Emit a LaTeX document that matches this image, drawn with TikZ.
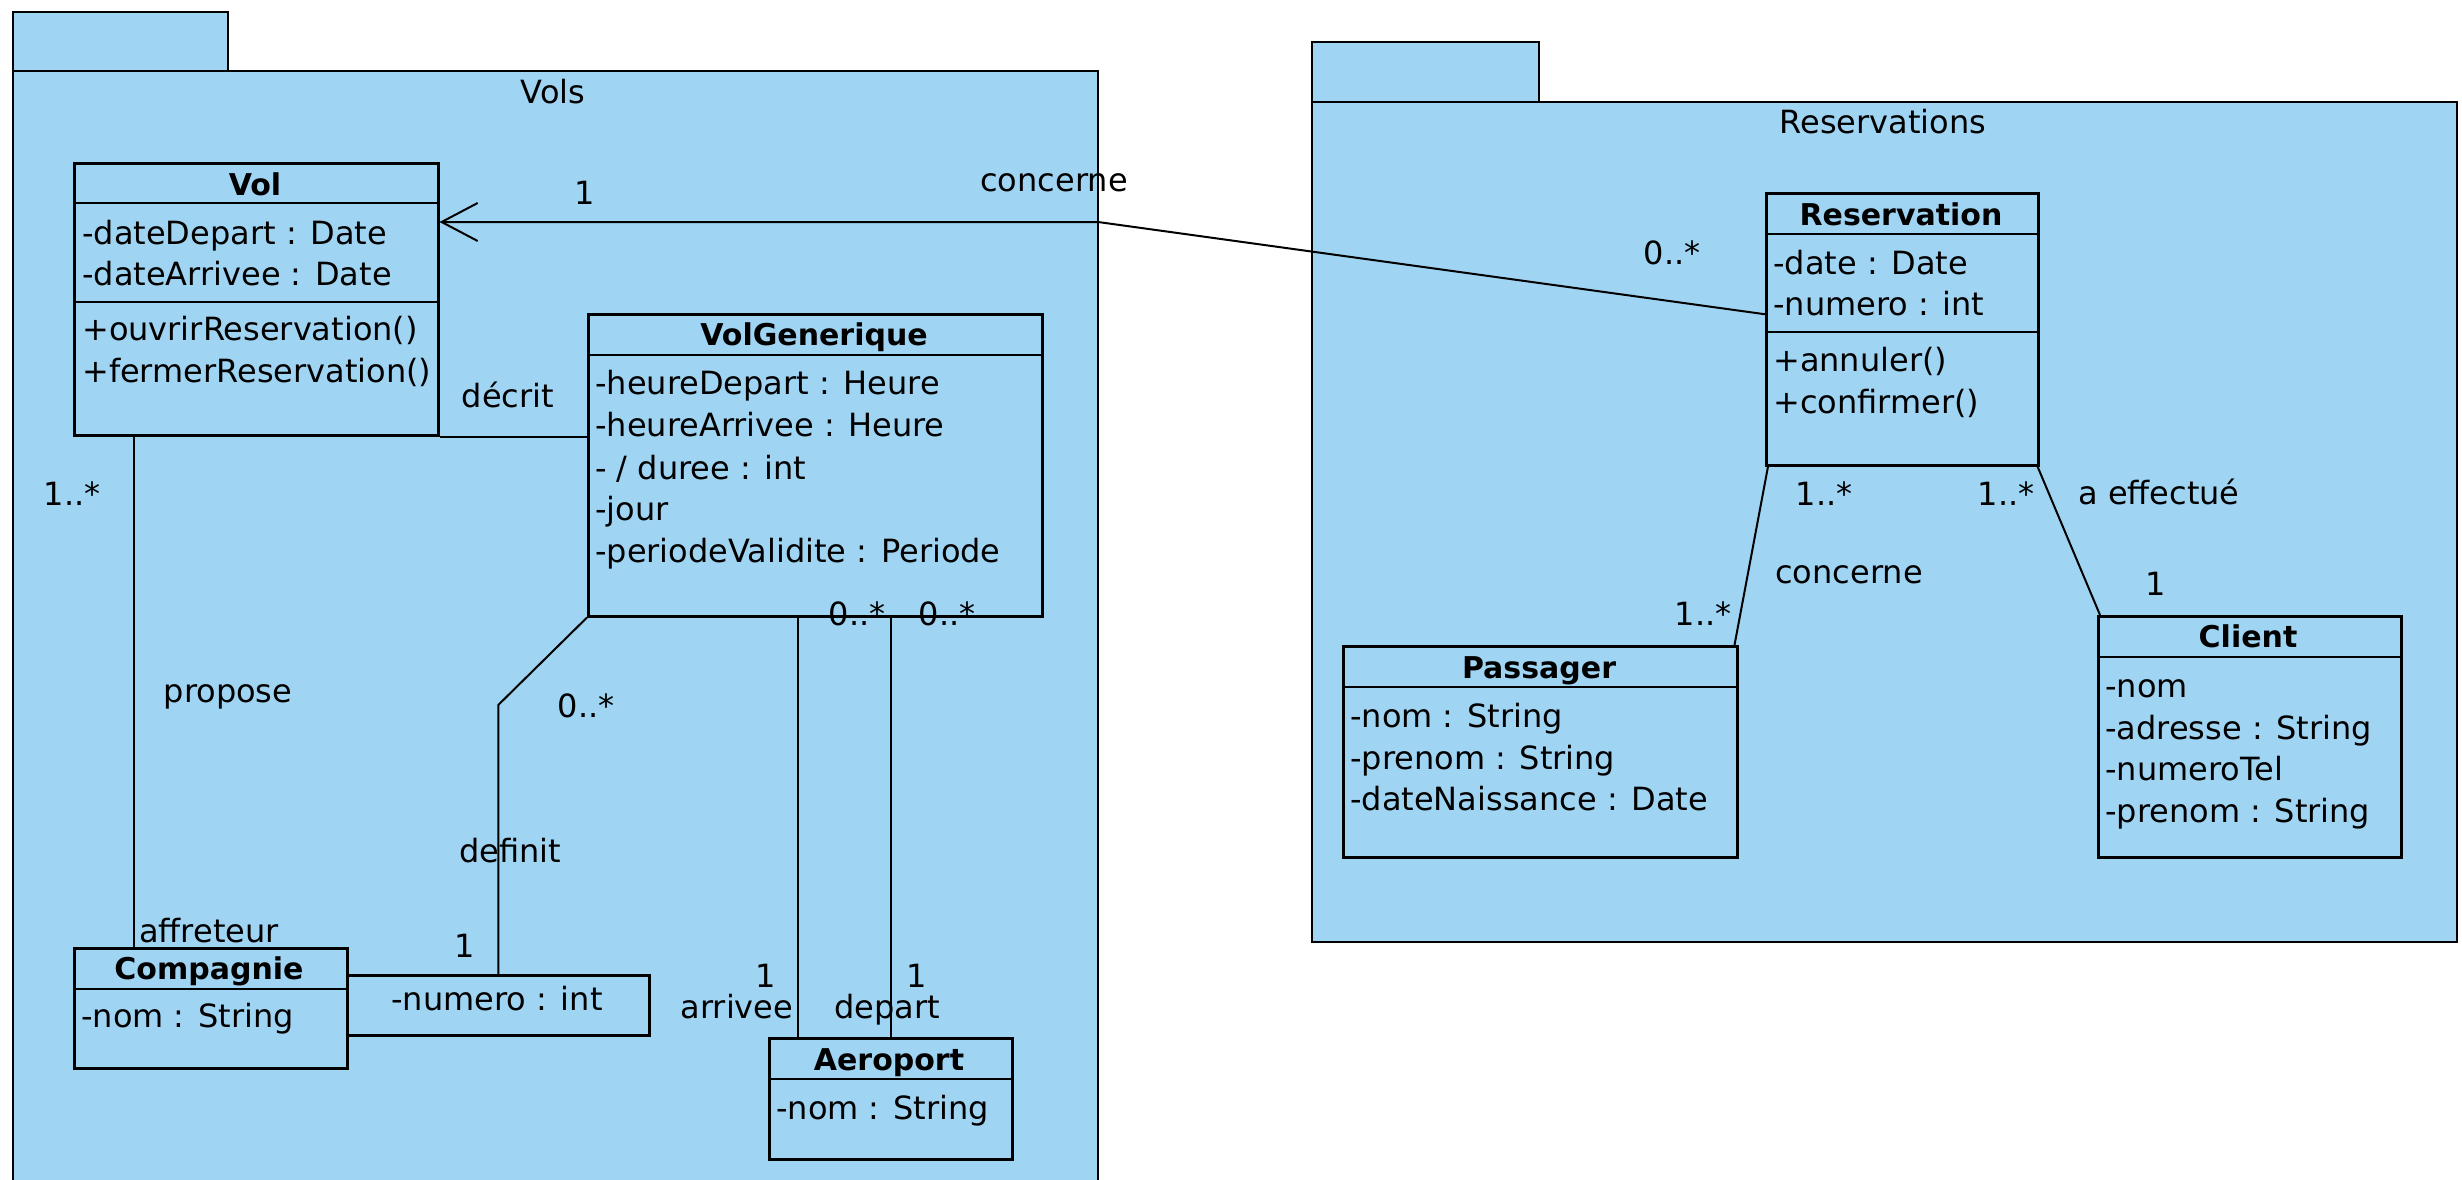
\documentclass[tikz,border=0pt]{standalone}
\usepackage{fontspec}
\setmainfont{DejaVu Sans}
\usetikzlibrary{arrows.meta}

\definecolor{bleuuml}{RGB}{160,212,243}
\newcommand{\taille}{\fontsize{32pt}{38pt}\selectfont}
\newcommand{\tailletitre}{\fontsize{30pt}{36pt}\selectfont}

\tikzset{
	paquet/.style={draw, fill=bleuuml, line width=2.5pt},
	classe/.style={draw, fill=bleuuml, line width=2.5pt, anchor=north west, inner sep=0pt},
	separe/.style={line width=2.5pt},
	titre/.style={font=\tailletitre\bfseries, anchor=base, inner sep=0pt},
	membre/.style={font=\taille, anchor=base west, inner sep=0pt},
	role/.style={font=\taille, anchor=base, inner sep=0pt},
	lien/.style={line width=2pt},
}

\begin{document}
\begin{tikzpicture}[x=1pt,y=-1pt]
	\useasboundingbox (0,0) rectangle (2462,1180);

	% paquets
	\draw[paquet] (13,12) rectangle (228,71);
	\draw[paquet] (13,71) rectangle (1098,1200);
	\node[role] (nomvols) at (553,104) {Vols};
	\draw[paquet] (1312,42) rectangle (1539,102);
	\draw[paquet] (1312,102) rectangle (2457,942);
	\node[role] (nomres) at (1883,134) {Reservations};

	% Vol
	\node[classe, minimum width=364pt, minimum height=272pt] (vol) at (73,162) {};
	\draw[separe] ([yshift=-41pt]vol.north west) -- ([yshift=-41pt]vol.north east);
	\draw[separe] ([yshift=-140pt]vol.north west) -- ([yshift=-140pt]vol.north east);
	\node[titre] (volT) at (255,195) {Vol};
	\node[membre] (volA) at (82,244) {-dateDepart : Date};
	\node[membre] (volB) at (82,285) {-dateArrivee : Date};
	\node[membre] (volC) at (82,340) {+ouvrirReservation()};
	\node[membre] (volD) at (82,382) {+fermerReservation()};

	% VolGenerique
	\node[classe, minimum width=454pt, minimum height=302pt] (volgen) at (587,313) {};
	\draw[separe] ([yshift=-42pt]volgen.north west) -- ([yshift=-42pt]volgen.north east);
	\node[titre] (volgenT) at (814,345) {VolGenerique};
	\node[membre] (volgenA) at (595,394) {-heureDepart : Heure};
	\node[membre] (volgenB) at (595,436) {-heureArrivee : Heure};
	\node[membre] (volgenC) at (595,479) {- / duree : int};
	\node[membre] (volgenD) at (595,520) {-jour};
	\node[membre] (volgenE) at (595,562) {-periodeValidite : Periode};

	% Compagnie et qualificatif
	\node[classe, minimum width=273pt, minimum height=120pt] (compagnie) at (73,947) {};
	\draw[separe] ([yshift=-42pt]compagnie.north west) -- ([yshift=-42pt]compagnie.north east);
	\node[titre] (compagnieT) at (209,979) {Compagnie};
	\node[membre] (compagnieA) at (81,1027) {-nom : String};
	\node[classe, minimum width=302pt, minimum height=60pt] (qualif) at (346,974) {};
	\node[role] (qualifA) at (497,1010) {-numero : int};

	% Aeroport
	\node[classe, minimum width=243pt, minimum height=121pt] (aeroport) at (768,1037) {};
	\draw[separe] ([yshift=-42pt]aeroport.north west) -- ([yshift=-42pt]aeroport.north east);
	\node[titre] (aeroportT) at (889,1070) {Aeroport};
	\node[membre] (aeroportA) at (776,1119) {-nom : String};

	% Reservation
	\node[classe, minimum width=272pt, minimum height=272pt] (reservation) at (1765,192) {};
	\draw[separe] ([yshift=-42pt]reservation.north west) -- ([yshift=-42pt]reservation.north east);
	\draw[separe] ([yshift=-140pt]reservation.north west) -- ([yshift=-140pt]reservation.north east);
	\node[titre] (reservationT) at (1901,225) {Reservation};
	\node[membre] (reservationA) at (1773,274) {-date : Date};
	\node[membre] (reservationB) at (1773,315) {-numero : int};
	\node[membre] (reservationC) at (1773,371) {+annuler()};
	\node[membre] (reservationD) at (1773,413) {+confirmer()};

	% Passager
	\node[classe, minimum width=394pt, minimum height=211pt] (passager) at (1342,645) {};
	\draw[separe] ([yshift=-42pt]passager.north west) -- ([yshift=-42pt]passager.north east);
	\node[titre] (passagerT) at (1539,678) {Passager};
	\node[membre] (passagerA) at (1350,727) {-nom : String};
	\node[membre] (passagerB) at (1350,769) {-prenom : String};
	\node[membre] (passagerC) at (1350,810) {-dateNaissance : Date};

	% Client
	\node[classe, minimum width=303pt, minimum height=241pt] (client) at (2097,615) {};
	\draw[separe] ([yshift=-42pt]client.north west) -- ([yshift=-42pt]client.north east);
	\node[titre] (clientT) at (2248,647) {Client};
	\node[membre] (clientA) at (2105,697) {-nom};
	\node[membre] (clientB) at (2105,739) {-adresse : String};
	\node[membre] (clientC) at (2105,780) {-numeroTel};
	\node[membre] (clientD) at (2105,822) {-prenom : String};

	% associations
	\coordinate (coude) at (1098,222);
	\coordinate (pli) at (496,705);
	\draw[lien, -{Straight Barb[length=36pt, width=38pt]}] ([yshift=15pt]reservation.west) -- (coude) -- (vol.east |- coude);
	\draw[lien] (vol.south east) -- (vol.south east -| volgen.west);
	\draw[lien] ([xshift=61pt]vol.south west) -- ([xshift=61pt]compagnie.north west);
	\draw[lien] (volgen.south west) -- (qualif.north |- pli) -- (qualif.north);
	\draw[lien] ([xshift=30pt]aeroport.north west) -- ([xshift=30pt]aeroport.north west |- volgen.south);
	\draw[lien] (aeroport.north) -- (aeroport.north |- volgen.south);
	\draw[lien] ([xshift=3pt]reservation.south west) -- ([xshift=-4pt]passager.north east);
	\draw[lien] ([xshift=-2pt]reservation.south east) -- ([xshift=3pt]client.north west);

	% roles et multiplicites
	\node[role] (m1) at (585,204) {1};
	\node[role] (r1) at (1054,191) {concerne};
	\node[role] (m2) at (1672,264) {0..*};
	\node[role] (r2) at (508,407) {décrit};
	\node[role] (m3) at (72,505) {1..*};
	\node[role] (r3) at (228,702) {propose};
	\node[role] (r4) at (209,942) {affreteur};
	\node[role] (m4) at (586,717) {0..*};
	\node[role] (r5) at (510,862) {definit};
	\node[role] (m5) at (465,957) {1};
	\node[role] (m6) at (857,625) {0..*};
	\node[role] (m7) at (947,625) {0..*};
	\node[role] (m8) at (766,987) {1};
	\node[role] (r6) at (737,1018) {arrivee};
	\node[role] (m9) at (917,987) {1};
	\node[role] (r7) at (887,1018) {depart};
	\node[role] (m10) at (1824,505) {1..*};
	\node[role] (m11) at (2006,505) {1..*};
	\node[role] (r8) at (2159,504) {a effectué};
	\node[role] (m12) at (2156,595) {1};
	\node[role] (r9) at (1849,583) {concerne};
	\node[role] (m13) at (1703,625) {1..*};
\end{tikzpicture}
\end{document}
